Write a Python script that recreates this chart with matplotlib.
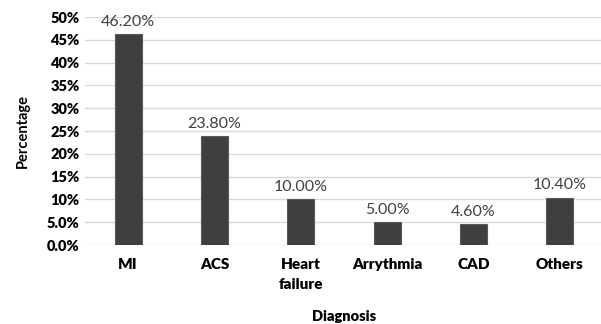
import numpy as np
import matplotlib.pyplot as plt
from matplotlib.ticker import FixedLocator

# diagnosis categories and share of patients
categories = ['MI', 'ACS', 'Heart\nfailure', 'Arrythmia', 'CAD', 'Others']
values = [46.2, 23.8, 10.0, 5.0, 4.6, 10.4]
value_labels = ['46.20%', '23.80%', '10.00%', '5.00%', '4.60%', '10.40%']
yticks = [0, 5, 10, 15, 20, 25, 30, 35, 40, 45, 50]
ytick_labels = ['0.0%', '5.0%', '10%', '15%', '20%', '25%', '30%', '35%', '40%', '45%', '50%']

plt.rcParams['font.family'] = ['Lato', 'DejaVu Sans']

fig = plt.figure(figsize=(6.01, 3.24), dpi=100)
ax = fig.add_axes([0.1414, 0.2438, 0.862, 0.7037])

x = np.arange(len(categories))
ax.bar(x, values, width=0.31, color='#3f3f3f', edgecolor='#5a5a5a', linewidth=0.8, zorder=3)

for xi, v, lab in zip(x, values, value_labels):
    ax.text(xi, v + 1.2, lab, ha='center', va='bottom', fontsize=11.5, color='#404040')

ax.set_xlim(-0.5, len(categories) - 0.5)
ax.set_ylim(0, 50)
ax.yaxis.set_major_locator(FixedLocator(yticks))
ax.set_yticklabels(ytick_labels, fontsize=10.5, fontweight='heavy')
ax.set_xticks(x)
ax.set_xticklabels(categories, fontsize=11, fontweight='heavy', linespacing=1.65)
ax.tick_params(axis='y', length=0, pad=4)
ax.tick_params(axis='x', length=0, pad=9)
ax.grid(axis='y', color='#d9d9d9', linewidth=1, zorder=0)
for s in ax.spines.values():
    s.set_visible(False)

ax.set_ylabel('Percentage', fontsize=10.5, fontweight='bold', labelpad=12)
ax.set_xlabel('Diagnosis', fontsize=10.5, fontweight='heavy', labelpad=14)

fig.savefig('out.png', dpi=100)
